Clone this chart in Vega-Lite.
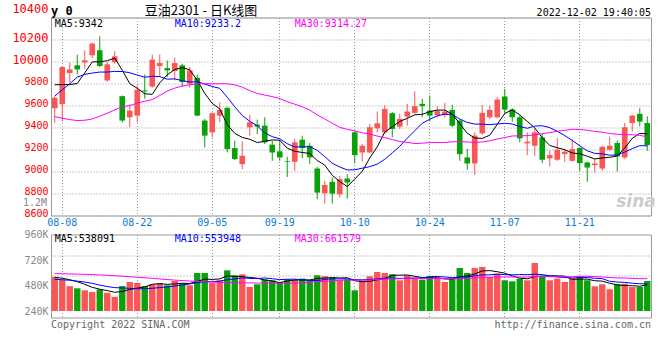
{
  "$schema": "https://vega.github.io/schema/vega-lite/v6.json",
  "background": "white",
  "padding": {"left": 11, "top": 1.5, "right": 5, "bottom": 5},
  "config": {
    "view": {"stroke": "#999999", "strokeWidth": 1},
    "font": "DejaVu Sans Mono",
    "axis": {"labelFont": "DejaVu Sans Mono", "labelFontSize": 10, "labelOverlap": false, "ticks": false, "domain": false, "title": null, "gridColor": "#999999", "gridDash": [1, 2], "gridWidth": 1}
  },
  "data": {"values": [
    {"d":"08-05","o":9575,"h":9680,"l":9441,"c":9670,"v":699000,"m5":9789,"m10":9685,"m30":9499,"vm5":690000,"vm10":648000,"vm30":765000},
    {"d":"08-08","o":9612,"h":9955,"l":9454,"c":9950,"v":638000,"m5":9790,"m10":9743,"m30":9484,"vm5":670000,"vm10":640000,"vm30":762000},
    {"d":"08-09","o":9895,"h":9989,"l":9807,"c":9928,"v":509000,"m5":9790,"m10":9798,"m30":9472,"vm5":640000,"vm10":628000,"vm30":758000},
    {"d":"08-10","o":9965,"h":10062,"l":9882,"c":9928,"v":464000,"m5":9800,"m10":9858,"m30":9463,"vm5":600000,"vm10":610000,"vm30":754000},
    {"d":"08-11","o":9992,"h":10102,"l":9935,"c":10011,"v":423000,"m5":9897,"m10":9883,"m30":9466,"vm5":546600,"vm10":593000,"vm30":750000},
    {"d":"08-12","o":10056,"h":10172,"l":10029,"c":10163,"v":389000,"m5":9996,"m10":9895,"m30":9478,"vm5":484600,"vm10":565000,"vm30":745000},
    {"d":"08-15","o":10102,"h":10230,"l":9950,"c":9959,"v":440000,"m5":9998,"m10":9904,"m30":9502,"vm5":445000,"vm10":530000,"vm30":738000},
    {"d":"08-16","o":9828,"h":9995,"l":9813,"c":9974,"v":372000,"m5":10007,"m10":9904,"m30":9530,"vm5":417600,"vm10":500000,"vm30":730000},
    {"d":"08-17","o":9995,"h":10093,"l":9980,"c":10047,"v":286000,"m5":10031,"m10":9910,"m30":9560,"vm5":382000,"vm10":478000,"vm30":722000},
    {"d":"08-18","o":9685,"h":9691,"l":9447,"c":9463,"v":509000,"m5":9921,"m10":9909,"m30":9588,"vm5":399200,"vm10":472900,"vm30":712000},
    {"d":"08-19","o":9493,"h":9609,"l":9402,"c":9554,"v":593000,"m5":9799,"m10":9898,"m30":9600,"vm5":440000,"vm10":462300,"vm30":700000},
    {"d":"08-22","o":9508,"h":9782,"l":9447,"c":9743,"v":573000,"m5":9756,"m10":9877,"m30":9621,"vm5":466600,"vm10":455800,"vm30":690000},
    {"d":"08-23","o":9737,"h":9883,"l":9661,"c":9728,"v":509000,"m5":9707,"m10":9857,"m30":9639,"vm5":494000,"vm10":455800,"vm30":680000},
    {"d":"08-24","o":9773,"h":10062,"l":9761,"c":10017,"v":546000,"m5":9701,"m10":9866,"m30":9654,"vm5":546000,"vm10":464000,"vm30":668000},
    {"d":"08-25","o":9959,"h":10065,"l":9864,"c":9986,"v":573000,"m5":9806,"m10":9863,"m30":9691,"vm5":558800,"vm10":479000,"vm30":655000},
    {"d":"08-26","o":9940,"h":10010,"l":9858,"c":9919,"v":526000,"m5":9879,"m10":9839,"m30":9731,"vm5":545400,"vm10":492700,"vm30":643000},
    {"d":"08-29","o":9913,"h":10035,"l":9828,"c":9986,"v":614000,"m5":9927,"m10":9842,"m30":9758,"vm5":553600,"vm10":510100,"vm30":632000},
    {"d":"08-30","o":9965,"h":9980,"l":9773,"c":9813,"v":573000,"m5":9944,"m10":9826,"m30":9776,"vm5":566400,"vm10":530200,"vm30":622000},
    {"d":"08-31","o":9798,"h":9950,"l":9761,"c":9919,"v":526000,"m5":9925,"m10":9813,"m30":9788,"vm5":562400,"vm10":554200,"vm30":612000},
    {"d":"09-01","o":9852,"h":9883,"l":9502,"c":9508,"v":777000,"m5":9829,"m10":9817,"m30":9798,"vm5":603200,"vm10":581000,"vm30":604000},
    {"d":"09-02","o":9463,"h":9478,"l":9219,"c":9326,"v":777000,"m5":9710,"m10":9795,"m30":9798,"vm5":653400,"vm10":599400,"vm30":597000},
    {"d":"09-05","o":9356,"h":9539,"l":9310,"c":9530,"v":573000,"m5":9619,"m10":9773,"m30":9798,"vm5":645200,"vm10":599400,"vm30":591000},
    {"d":"09-06","o":9508,"h":9630,"l":9447,"c":9560,"v":628000,"m5":9569,"m10":9756,"m30":9798,"vm5":656200,"vm10":611300,"vm30":586000},
    {"d":"09-07","o":9578,"h":9590,"l":9173,"c":9204,"v":832000,"m5":9426,"m10":9675,"m30":9798,"vm5":717400,"vm10":639900,"vm30":582000},
    {"d":"09-08","o":9213,"h":9280,"l":9104,"c":9113,"v":730000,"m5":9347,"m10":9588,"m30":9788,"vm5":708000,"vm10":655600,"vm30":579000},
    {"d":"09-09","o":9067,"h":9274,"l":9021,"c":9143,"v":751000,"m5":9310,"m10":9510,"m30":9767,"vm5":702800,"vm10":678100,"vm30":576000},
    {"d":"09-13","o":9402,"h":9517,"l":9326,"c":9447,"v":491000,"m5":9293,"m10":9456,"m30":9735,"vm5":686400,"vm10":665800,"vm30":574000},
    {"d":"09-14","o":9426,"h":9472,"l":9341,"c":9408,"v":546000,"m5":9263,"m10":9416,"m30":9710,"vm5":670000,"vm10":663100,"vm30":572000},
    {"d":"09-15","o":9417,"h":9493,"l":9250,"c":9265,"v":648000,"m5":9275,"m10":9350,"m30":9695,"vm5":633200,"vm10":675300,"vm30":571000},
    {"d":"09-16","o":9244,"h":9280,"l":9097,"c":9173,"v":628000,"m5":9287,"m10":9317,"m30":9681,"vm5":612800,"vm10":660400,"vm30":571400},
    {"d":"09-19","o":9183,"h":9289,"l":9097,"c":9128,"v":593000,"m5":9284,"m10":9297,"m30":9663,"vm5":581200,"vm10":642000,"vm30":567900},
    {"d":"09-20","o":9094,"h":9134,"l":8951,"c":9088,"v":648000,"m5":9212,"m10":9253,"m30":9634,"vm5":612600,"vm10":649500,"vm30":568200},
    {"d":"09-21","o":9088,"h":9295,"l":9006,"c":9265,"v":648000,"m5":9184,"m10":9223,"m30":9612,"vm5":633000,"vm10":651500,"vm30":572900},
    {"d":"09-22","o":9289,"h":9326,"l":9122,"c":9213,"v":663000,"m5":9173,"m10":9224,"m30":9588,"vm5":636000,"vm10":634600,"vm30":579500},
    {"d":"09-23","o":9234,"h":9259,"l":9070,"c":9128,"v":628000,"m5":9164,"m10":9226,"m30":9559,"vm5":636000,"vm10":624400,"vm30":586300},
    {"d":"09-26","o":9027,"h":9043,"l":8747,"c":8808,"v":730000,"m5":9100,"m10":9192,"m30":9514,"vm5":663400,"vm10":622300,"vm30":597700},
    {"d":"09-27","o":8802,"h":8915,"l":8708,"c":8878,"v":710000,"m5":9058,"m10":9135,"m30":9478,"vm5":675800,"vm10":644200,"vm30":606700},
    {"d":"09-28","o":8906,"h":8945,"l":8708,"c":8799,"v":683000,"m5":8965,"m10":9075,"m30":9439,"vm5":682800,"vm10":657900,"vm30":617100},
    {"d":"09-29","o":8793,"h":8960,"l":8763,"c":8930,"v":628000,"m5":8909,"m10":9041,"m30":9401,"vm5":675800,"vm10":655900,"vm30":628500},
    {"d":"09-30","o":8936,"h":8976,"l":8754,"c":8900,"v":648000,"m5":8863,"m10":9014,"m30":9383,"vm5":679800,"vm10":657900,"vm30":633100},
    {"d":"10-10","o":9356,"h":9371,"l":9076,"c":9149,"v":423000,"m5":8931,"m10":9016,"m30":9369,"vm5":618400,"vm10":640900,"vm30":627400},
    {"d":"10-11","o":9173,"h":9250,"l":9091,"c":9234,"v":614000,"m5":9002,"m10":9030,"m30":9352,"vm5":599200,"vm10":637500,"vm30":628800},
    {"d":"10-12","o":9173,"h":9432,"l":9167,"c":9402,"v":710000,"m5":9123,"m10":9044,"m30":9341,"vm5":604600,"vm10":643700,"vm30":635500},
    {"d":"10-13","o":9393,"h":9545,"l":9356,"c":9438,"v":798000,"m5":9225,"m10":9067,"m30":9322,"vm5":638600,"vm10":657200,"vm30":643900},
    {"d":"10-14","o":9356,"h":9600,"l":9341,"c":9569,"v":777000,"m5":9358,"m10":9111,"m30":9308,"vm5":664400,"vm10":672100,"vm30":650700},
    {"d":"10-17","o":9530,"h":9539,"l":9310,"c":9387,"v":751000,"m5":9406,"m10":9169,"m30":9290,"vm5":730000,"vm10":674200,"vm30":658200},
    {"d":"10-18","o":9408,"h":9524,"l":9387,"c":9478,"v":628000,"m5":9455,"m10":9229,"m30":9273,"vm5":732800,"vm10":666000,"vm30":658700},
    {"d":"10-19","o":9499,"h":9615,"l":9417,"c":9545,"v":730000,"m5":9483,"m10":9303,"m30":9265,"vm5":736800,"vm10":670700,"vm30":663900},
    {"d":"10-20","o":9533,"h":9728,"l":9524,"c":9594,"v":663000,"m5":9515,"m10":9370,"m30":9254,"vm5":709800,"vm10":674200,"vm30":668500},
    {"d":"10-21","o":9615,"h":9661,"l":9493,"c":9594,"v":642000,"m5":9520,"m10":9439,"m30":9257,"vm5":682800,"vm10":673600,"vm30":664000},
    {"d":"10-24","o":9554,"h":9691,"l":9454,"c":9508,"v":710000,"m5":9544,"m10":9475,"m30":9263,"vm5":674600,"vm10":702300,"vm30":661700},
    {"d":"10-25","o":9514,"h":9594,"l":9493,"c":9548,"v":663000,"m5":9558,"m10":9506,"m30":9263,"vm5":681600,"vm10":707200,"vm30":664700},
    {"d":"10-26","o":9514,"h":9624,"l":9493,"c":9545,"v":593000,"m5":9558,"m10":9521,"m30":9263,"vm5":654200,"vm10":695500,"vm30":663600},
    {"d":"10-27","o":9560,"h":9606,"l":9402,"c":9417,"v":663000,"m5":9522,"m10":9519,"m30":9270,"vm5":654200,"vm10":682000,"vm30":657900},
    {"d":"10-28","o":9463,"h":9472,"l":9097,"c":9158,"v":879000,"m5":9435,"m10":9477,"m30":9271,"vm5":701600,"vm10":692200,"vm30":662900},
    {"d":"10-31","o":9128,"h":9204,"l":9015,"c":9073,"v":777000,"m5":9348,"m10":9446,"m30":9269,"vm5":715000,"vm10":694800,"vm30":663800},
    {"d":"11-01","o":9073,"h":9356,"l":8970,"c":9326,"v":879000,"m5":9304,"m10":9431,"m30":9265,"vm5":758200,"vm10":719900,"vm30":676700},
    {"d":"11-02","o":9347,"h":9606,"l":9332,"c":9533,"v":900000,"m5":9301,"m10":9430,"m30":9269,"vm5":819600,"vm10":736900,"vm30":688500},
    {"d":"11-03","o":9493,"h":9600,"l":9478,"c":9560,"v":695000,"m5":9330,"m10":9426,"m30":9279,"vm5":826000,"vm10":740100,"vm30":690100},
    {"d":"11-04","o":9493,"h":9676,"l":9484,"c":9654,"v":765000,"m5":9429,"m10":9432,"m30":9295,"vm5":803200,"vm10":752400,"vm30":694600},
    {"d":"11-07","o":9682,"h":9752,"l":9524,"c":9563,"v":628000,"m5":9527,"m10":9438,"m30":9309,"vm5":773400,"vm10":744200,"vm30":695800},
    {"d":"11-08","o":9563,"h":9575,"l":9454,"c":9493,"v":607000,"m5":9561,"m10":9432,"m30":9323,"vm5":719000,"vm10":738600,"vm30":694400},
    {"d":"11-09","o":9493,"h":9508,"l":9265,"c":9301,"v":663000,"m5":9514,"m10":9408,"m30":9324,"vm5":671600,"vm10":745600,"vm30":694900},
    {"d":"11-10","o":9256,"h":9356,"l":9149,"c":9271,"v":628000,"m5":9456,"m10":9393,"m30":9326,"vm5":658200,"vm10":742100,"vm30":693800},
    {"d":"11-11","o":9234,"h":9387,"l":9143,"c":9356,"v":982000,"m5":9397,"m10":9413,"m30":9334,"vm5":701600,"vm10":752400,"vm30":705600},
    {"d":"11-14","o":9310,"h":9341,"l":9076,"c":9107,"v":695000,"m5":9306,"m10":9416,"m30":9344,"vm5":715000,"vm10":744200,"vm30":704400},
    {"d":"11-15","o":9119,"h":9189,"l":9046,"c":9149,"v":628000,"m5":9237,"m10":9399,"m30":9353,"vm5":719200,"vm10":719100,"vm30":701700},
    {"d":"11-16","o":9107,"h":9304,"l":9097,"c":9198,"v":663000,"m5":9216,"m10":9365,"m30":9366,"vm5":719200,"vm10":695400,"vm30":701000},
    {"d":"11-17","o":9158,"h":9204,"l":9088,"c":9180,"v":593000,"m5":9198,"m10":9327,"m30":9374,"vm5":712200,"vm10":685200,"vm30":699800},
    {"d":"11-18","o":9097,"h":9295,"l":9088,"c":9204,"v":663000,"m5":9168,"m10":9282,"m30":9384,"vm5":648400,"vm10":675000,"vm30":700300},
    {"d":"11-21","o":9213,"h":9219,"l":9006,"c":9076,"v":710000,"m5":9161,"m10":9234,"m30":9382,"vm5":651400,"vm10":683200,"vm30":709900},
    {"d":"11-22","o":9082,"h":9091,"l":8906,"c":9036,"v":628000,"m5":9139,"m10":9188,"m30":9375,"vm5":651400,"vm10":685300,"vm30":710400},
    {"d":"11-23","o":9058,"h":9113,"l":8991,"c":9073,"v":505000,"m5":9114,"m10":9165,"m30":9364,"vm5":619800,"vm10":669500,"vm30":703500},
    {"d":"11-24","o":9027,"h":9234,"l":9006,"c":9225,"v":546000,"m5":9123,"m10":9160,"m30":9357,"vm5":610400,"vm10":661300,"vm30":695100},
    {"d":"11-25","o":9198,"h":9317,"l":9189,"c":9234,"v":444000,"m5":9129,"m10":9148,"m30":9346,"vm5":566600,"vm10":607500,"vm30":684000},
    {"d":"11-28","o":9259,"h":9280,"l":9000,"c":9137,"v":546000,"m5":9141,"m10":9151,"m30":9338,"vm5":533800,"vm10":592600,"vm30":677200},
    {"d":"11-29","o":9128,"h":9441,"l":9113,"c":9402,"v":560000,"m5":9214,"m10":9177,"m30":9335,"vm5":520200,"vm10":585800,"vm30":674900},
    {"d":"11-30","o":9441,"h":9514,"l":9362,"c":9508,"v":491000,"m5":9301,"m10":9208,"m30":9334,"vm5":517400,"vm10":568600,"vm30":667000},
    {"d":"12-01","o":9524,"h":9575,"l":9411,"c":9454,"v":491000,"m5":9347,"m10":9235,"m30":9329,"vm5":506400,"vm10":558400,"vm30":661200},
    {"d":"12-02","o":9441,"h":9502,"l":9189,"c":9240,"v":614000,"m5":9342,"m10":9233.2,"m30":9314.27,"vm5":538091,"vm10":553948,"vm30":661579}
  ]},
  "spacing": 19,
  "bounds": "flush",
  "vconcat": [
    {
      "width": 600,
      "height": 198,
      "encoding": {
        "x": {"field": "d", "type": "ordinal", "sort": "ascending",
          "scale": {"type": "band", "paddingInner": 0, "paddingOuter": 0},
          "axis": {"values": ["08-08","08-22","09-05","09-19","10-10","10-24","11-07","11-21"], "grid": true, "labelAngle": 0, "labelColor": "#0a7dd2", "labelPadding": 2, "labelOverlap": false, "tickCount": 100}}
      },
      "layer": [
        {"mark": {"type": "rule", "strokeWidth": 1},
         "encoding": {
           "y": {"field": "l", "type": "quantitative", "scale": {"domain": [8600, 10400], "nice": false, "zero": false},
             "axis": {"values": [8600, 8800, 9000, 9200, 9400, 9600, 9800, 10000, 10200, 10400],
               "tickCount": 100,
               "labelOverlap": false,
               "format": "d",
               "labelColor": "#ff0000",
               "labelFontSize": {"condition": {"test": "datum.value >= 10000", "value": 12}, "value": 10},
               "labelOffset": {"condition": {"test": "datum.value == 10400", "value": -9}, "value": -2},
               "labelPadding": 3, "grid": true}},
           "y2": {"field": "h"},
           "color": {"condition": {"test": "datum.c >= datum.o", "value": "#fa5656"}, "value": "#0aa00a"}}},
        {"mark": {"type": "bar", "width": {"band": 0.75}},
         "encoding": {
           "y": {"field": "o", "type": "quantitative"},
           "y2": {"field": "c"},
           "color": {"condition": {"test": "datum.c >= datum.o", "value": "#fa5656"}, "value": "#0aa00a"}}},
        {"mark": {"type": "line", "color": "#000000", "strokeWidth": 1}, "encoding": {"y": {"field": "m5", "type": "quantitative"}}},
        {"mark": {"type": "line", "color": "#0000ff", "strokeWidth": 1}, "encoding": {"y": {"field": "m10", "type": "quantitative"}}},
        {"mark": {"type": "line", "color": "#ff00ff", "strokeWidth": 1}, "encoding": {"y": {"field": "m30", "type": "quantitative"}}},
        {"data": {"values": [{"k": "MA5", "t": "MA5:9342", "d": "08-05"}, {"k": "MA10", "t": "MA10:9233.2", "d": "08-29"}, {"k": "MA30", "t": "MA30:9314.27", "d": "09-21"}]},
         "mark": {"type": "text", "align": "left", "baseline": "middle", "fontSize": 10, "font": "DejaVu Sans Mono"},
         "encoding": {
           "y": {"datum": 10340},
           "text": {"field": "t"},
           "color": {"field": "k", "type": "nominal", "scale": {"domain": ["MA5", "MA10", "MA30"], "range": ["#000000", "#0000ff", "#ff00ff"]}, "legend": null}}},
        {"data": {"values": [{"t": "1.2M"}]},
         "mark": {"type": "text", "align": "right", "baseline": "middle", "dx": -4, "fontSize": 10, "font": "DejaVu Sans Mono", "color": "#888888"},
         "encoding": {"x": {"datum": "08-05", "bandPosition": 0}, "y": {"datum": 8718}, "text": {"field": "t"}}},
        {"data": {"values": [{"t": "sina"}]},
         "mark": {"type": "text", "align": "center", "baseline": "middle", "fontSize": 17, "font": "DejaVu Sans", "fontStyle": "italic", "fontWeight": "bold", "color": "#cccccc"},
         "encoding": {"x": {"datum": "11-30", "bandPosition": 1}, "y": {"datum": 8719}, "text": {"field": "t"}}},
        {"data": {"values": [{"t": "y 0"}]},
         "mark": {"type": "text", "align": "left", "baseline": "middle", "dy": -7, "fontSize": 12, "fontWeight": "bold", "font": "DejaVu Sans Mono", "color": "#000000"},
         "encoding": {"x": {"datum": "08-05", "bandPosition": 0}, "y": {"datum": 10400}, "text": {"field": "t"}}},
        {"data": {"values": [{"t": "豆油2301 - 日K线图"}]},
         "mark": {"type": "text", "align": "center", "baseline": "middle", "dy": -6.5, "fontSize": 13, "font": "Noto Sans CJK SC", "color": "#000000"},
         "encoding": {"x": {"datum": "09-01", "bandPosition": 1}, "y": {"datum": 10400}, "text": {"field": "t"}}},
        {"data": {"values": [{"t": "2022-12-02 19:40:05"}]},
         "mark": {"type": "text", "align": "right", "baseline": "middle", "dy": -5, "fontSize": 10, "font": "DejaVu Sans Mono", "color": "#000000"},
         "encoding": {"x": {"datum": "12-02", "bandPosition": 1}, "y": {"datum": 10400}, "text": {"field": "t"}}}
      ]
    },
    {
      "width": 600,
      "height": 83,
      "encoding": {
        "x": {"field": "d", "type": "ordinal", "sort": "ascending",
          "scale": {"type": "band", "paddingInner": 0, "paddingOuter": 0},
          "axis": {"values": ["08-08","08-22","09-05","09-19","10-10","10-24","11-07","11-21"], "grid": true, "labels": false, "tickCount": 100}}
      },
      "layer": [
        {"layer": [
          {"mark": {"type": "bar", "width": {"band": 0.85}},
           "encoding": {
             "y": {"field": "v", "type": "quantitative", "scale": {"domain": [-132925, 1564425], "nice": false, "zero": false},
               "axis": {"orient": "left", "values": [317375, 726175, 1134975], "tickCount": 100, "grid": true, "labels": false}},
             "color": {"condition": {"test": "datum.c >= datum.o", "value": "#fa5656"}, "value": "#0aa00a"}}},
          {"mark": {"type": "line", "color": "#000000", "strokeWidth": 1}, "encoding": {"y": {"field": "vm5", "type": "quantitative"}}},
          {"mark": {"type": "line", "color": "#0000ff", "strokeWidth": 1}, "encoding": {"y": {"field": "vm10", "type": "quantitative"}}},
          {"mark": {"type": "line", "color": "#ff00ff", "strokeWidth": 1}, "encoding": {"y": {"field": "vm30", "type": "quantitative"}}},
          {"data": {"values": [{"k": "MA5", "t": "MA5:538091", "d": "08-05"}, {"k": "MA10", "t": "MA10:553948", "d": "08-29"}, {"k": "MA30", "t": "MA30:661579", "d": "09-21"}]},
           "mark": {"type": "text", "align": "left", "baseline": "middle", "fontSize": 10, "font": "DejaVu Sans Mono"},
           "encoding": {
             "y": {"datum": 1472000},
             "text": {"field": "t"},
             "color": {"field": "k", "type": "nominal", "scale": {"domain": ["MA5", "MA10", "MA30"], "range": ["#000000", "#0000ff", "#ff00ff"]}, "legend": null}}},
          {"data": {"values": [{"t": "Copyright 2022 SINA.COM"}]},
           "mark": {"type": "text", "align": "left", "baseline": "middle", "dy": 7, "fontSize": 10, "font": "DejaVu Sans Mono", "color": "#666666"},
           "encoding": {"x": {"datum": "08-05", "bandPosition": 0}, "y": {"datum": -132925}, "text": {"field": "t"}}},
          {"data": {"values": [{"t": "http://finance.sina.com.cn"}]},
           "mark": {"type": "text", "align": "right", "baseline": "middle", "dy": 7, "fontSize": 10, "font": "DejaVu Sans Mono", "color": "#666666"},
           "encoding": {"x": {"datum": "12-02", "bandPosition": 1}, "y": {"datum": -132925}, "text": {"field": "t"}}}
        ]},
        {"data": {"values": [{"tk": 240000}, {"tk": 480000}, {"tk": 720000}, {"tk": 960000}]},
         "mark": {"type": "point", "opacity": 0},
         "encoding": {
           "x": {"datum": "08-05"},
           "y": {"field": "tk", "type": "quantitative", "scale": {"domain": [184000, 960000], "nice": false, "zero": false},
             "axis": {"orient": "left", "values": [240000, 480000, 720000, 960000], "tickCount": 100, "labelOverlap": false, "labelExpr": "format(datum.value / 1000, 'd') + 'K'", "labelColor": "#888888", "grid": false, "labelPadding": 3}}}}
      ],
      "resolve": {"scale": {"y": "independent"}, "axis": {"y": "independent"}}
    }
  ]
}
